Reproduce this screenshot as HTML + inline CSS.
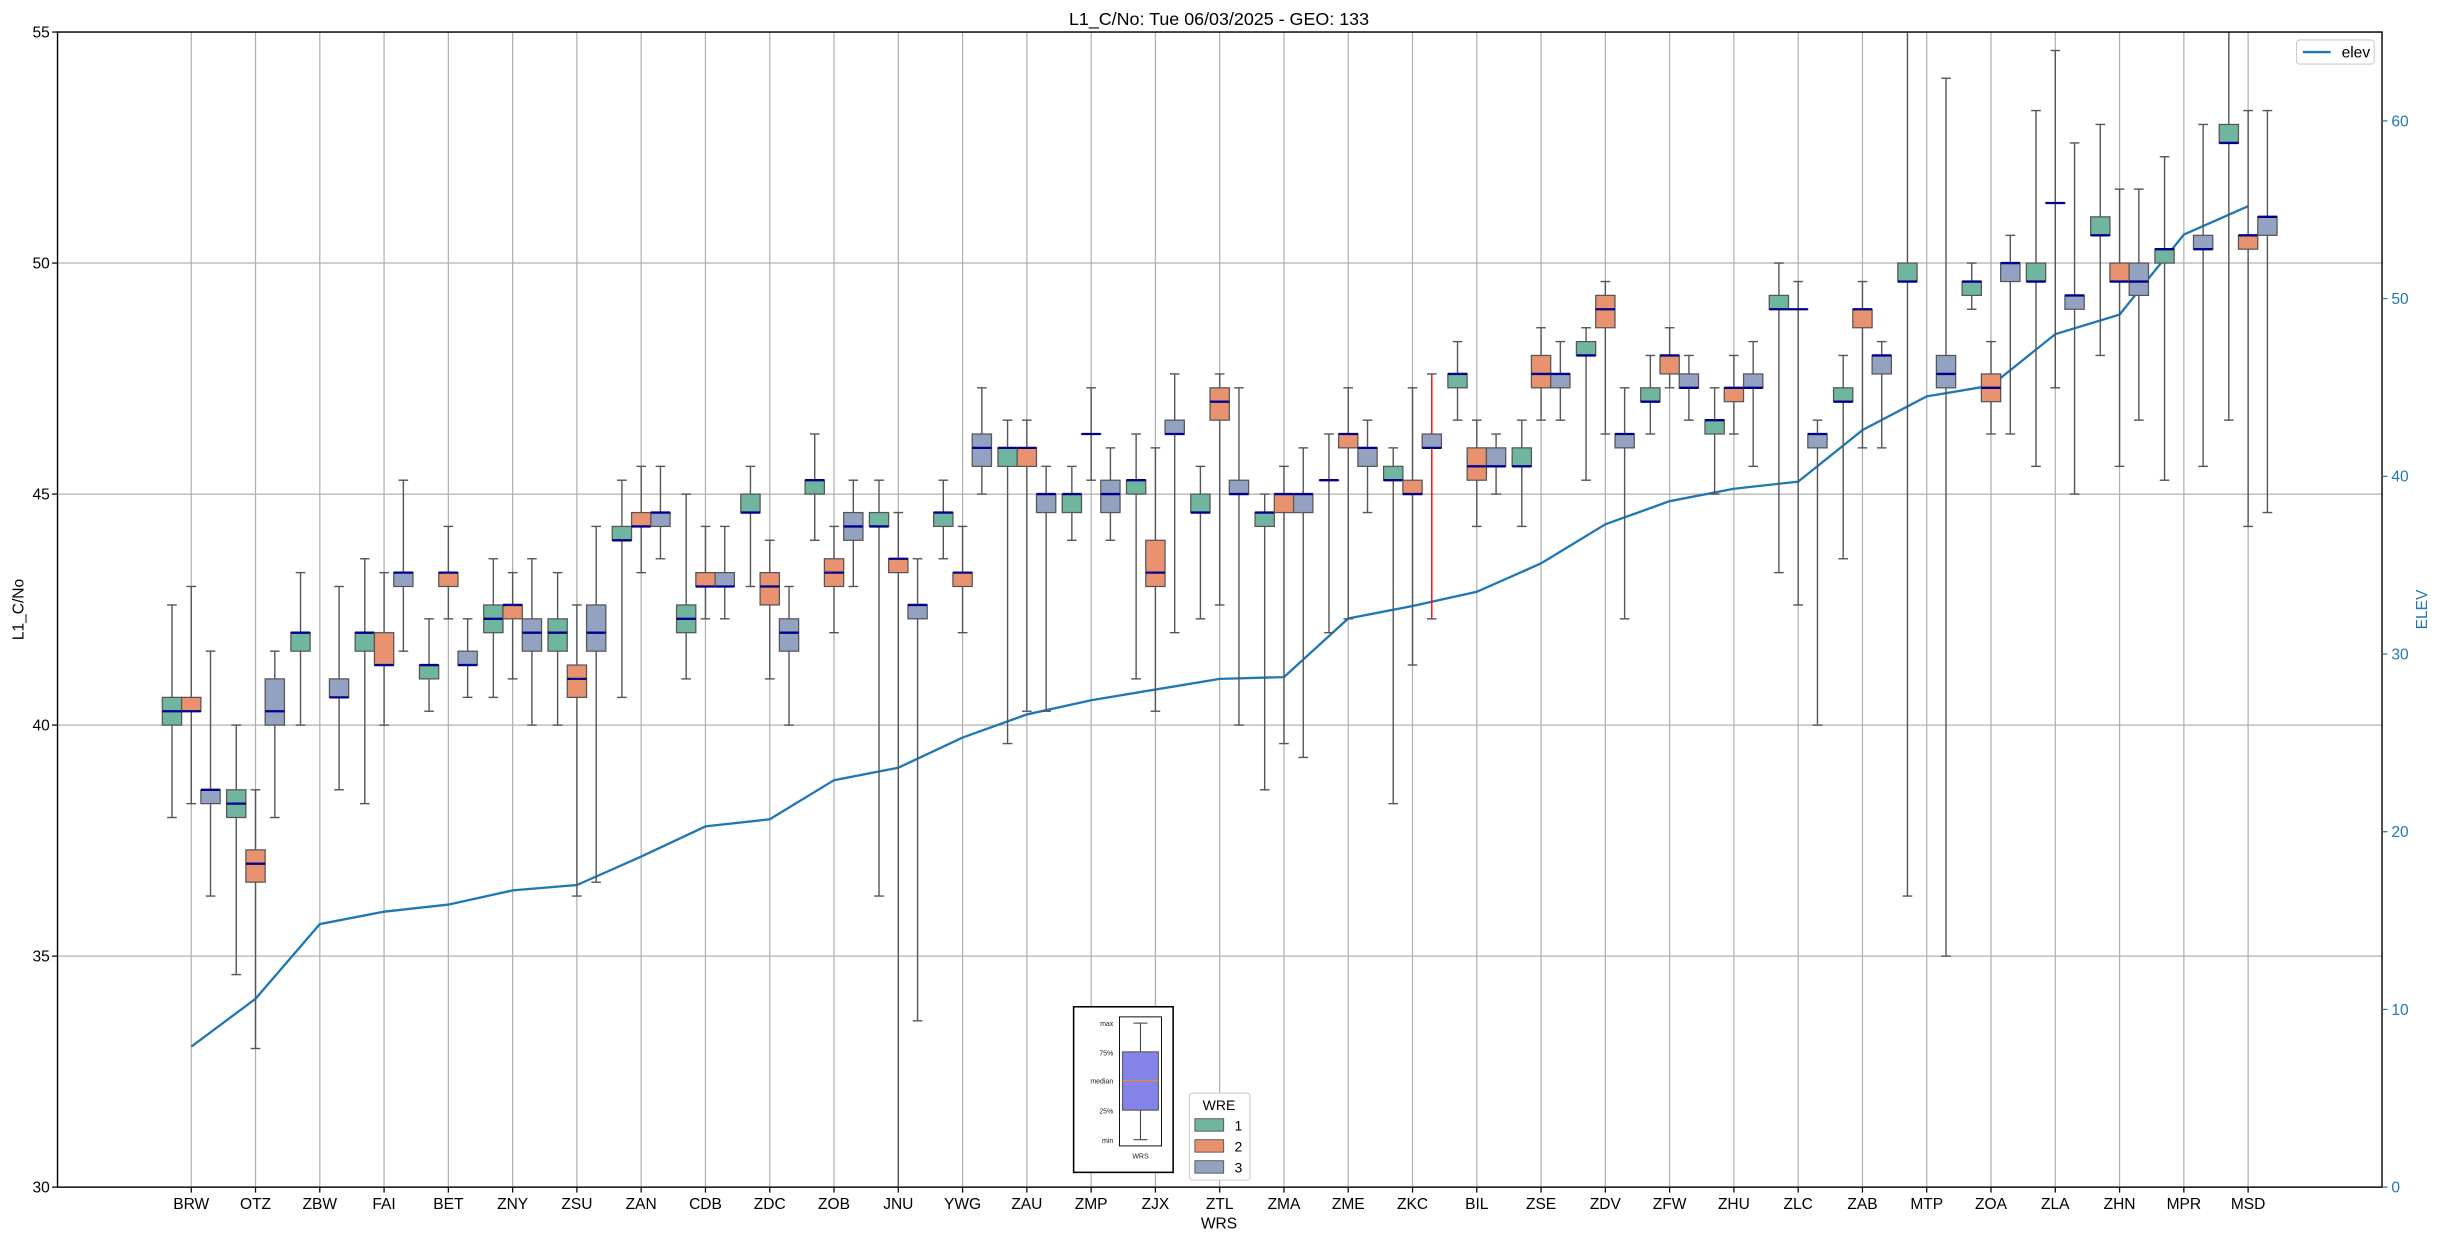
<!DOCTYPE html>
<html><head><meta charset="utf-8"><style>
html,body{margin:0;padding:0;background:#fff;}
svg{display:block;font-family:"Liberation Sans","DejaVu Sans",sans-serif;}
</style></head><body>
<svg id="chart" width="2438" height="1240" viewBox="0 0 1568 797.5" xmlns="http://www.w3.org/2000/svg">
<rect width="1568" height="797.5" fill="#fff"/>
<g id="grid"></g>
<g id="elevg"></g>
<g id="boxes"></g>
<g id="axes"></g>
<text x="784" y="16" text-anchor="middle" font-size="11.5">L1_C/No: Tue 06/03/2025 - GEO: 133</text>
<text x="784" y="790" text-anchor="middle" font-size="10">WRS</text>
<text transform="translate(15,392) rotate(-90)" text-anchor="middle" font-size="10">L1_C/No</text>
<text transform="translate(1561,392) rotate(-90)" text-anchor="middle" font-size="10" fill="#1f77b4">ELEV</text>
<g>
<rect x="1477" y="25.7" width="50" height="15.5" rx="2" fill="#fff" stroke="#ccc" stroke-width="0.7"/>
<line x1="1481" y1="33.5" x2="1499" y2="33.5" stroke="#1f77b4" stroke-width="1.5"/>
<text x="1506" y="37" font-size="10">elev</text>
</g>
<g>
<rect x="690.5" y="647.5" width="64" height="106.5" fill="#fff" stroke="#000" stroke-width="1"/>
<rect x="720" y="654" width="27" height="83" fill="#fff" stroke="#000" stroke-width="0.6"/>
<line x1="733.5" y1="658" x2="733.5" y2="733" stroke="#444" stroke-width="0.7"/>
<line x1="729" y1="658" x2="738" y2="658" stroke="#444" stroke-width="0.7"/>
<line x1="729" y1="733" x2="738" y2="733" stroke="#444" stroke-width="0.7"/>
<rect x="722" y="676.5" width="23" height="37.5" fill="#8484e8" stroke="#444" stroke-width="0.6"/>
<line x1="722" y1="695" x2="745" y2="695" stroke="#ff8c00" stroke-width="0.7"/>
<g font-size="4.5" text-anchor="end" fill="#222">
<text x="716" y="660">max</text><text x="716" y="679">75%</text><text x="716" y="697">median</text><text x="716" y="716">25%</text><text x="716" y="735">min</text>
</g>
<text x="733.5" y="745" font-size="4.5" text-anchor="middle" fill="#222">WRS</text>
</g>
<g>
<rect x="765" y="703" width="39" height="56" rx="2" fill="#fff" stroke="#ccc" stroke-width="0.7"/>
<text x="784" y="714" font-size="9" text-anchor="middle">WRE</text>
<rect x="768.5" y="719.5" width="18.5" height="8" fill="#6fb59f" stroke="#555" stroke-width="0.6"/><text x="794" y="727" font-size="9">1</text>
<rect x="768.5" y="733" width="18.5" height="8" fill="#e8926f" stroke="#555" stroke-width="0.6"/><text x="794" y="740.5" font-size="9">2</text>
<rect x="768.5" y="746.5" width="18.5" height="8" fill="#94a2c2" stroke="#555" stroke-width="0.6"/><text x="794" y="754" font-size="9">3</text>
</g>
</svg>
<script>
const categories=["BRW","OTZ","ZBW","FAI","BET","ZNY","ZSU","ZAN","CDB","ZDC","ZOB","JNU","YWG","ZAU","ZMP","ZJX","ZTL","ZMA","ZME","ZKC","BIL","ZSE","ZDV","ZFW","ZHU","ZLC","ZAB","MTP","ZOA","ZLA","ZHN","MPR","MSD"];
const elev=[7.9,10.6,14.8,15.5,15.9,16.7,17.0,18.6,20.3,20.7,22.9,23.6,25.3,26.6,27.4,28.0,28.6,28.7,32.0,32.7,33.5,35.1,37.3,38.6,39.3,39.7,42.6,44.5,45.1,48.0,49.1,53.6,55.2];
// [low whisker, q1, median, q3, high whisker]
const wre1=[[38.0,40.0,40.3,40.6,42.6],[34.6,38.0,38.3,38.6,40.0],[40.0,41.6,42.0,42.0,43.3],[38.3,41.6,42.0,42.0,43.6],[40.3,41.0,41.3,41.3,42.3],[40.6,42.0,42.3,42.6,43.6],[40.0,41.6,42.0,42.3,43.3],[40.6,44.0,44.0,44.3,45.3],[41.0,42.0,42.3,42.6,45.0],[43.0,44.6,44.6,45.0,45.6],[44.0,45.0,45.3,45.3,46.3],[36.3,44.3,44.3,44.6,45.3],[43.6,44.3,44.6,44.6,45.3],[39.6,45.6,46.0,46.0,46.6],[44.0,44.6,45.0,45.0,45.6],[41.0,45.0,45.3,45.3,46.3],[42.3,44.6,44.6,45.0,45.6],[38.6,44.3,44.6,44.6,45.0],[42.0,45.3,45.3,45.3,46.3],[38.3,45.3,45.3,45.6,46.0],[46.6,47.3,47.6,47.6,48.3],[44.3,45.6,45.6,46.0,46.6],[45.3,48.0,48.0,48.3,48.6],[46.3,47.0,47.0,47.3,48.0],[45.0,46.3,46.6,46.6,47.3],[43.3,49.0,49.0,49.3,50.0],[43.6,47.0,47.0,47.3,48.0],[36.3,49.6,49.6,50.0,55.5],[49.0,49.3,49.6,49.6,50.0],[45.6,49.6,49.6,50.0,53.3],[48.0,50.6,50.6,51.0,53.0],[45.3,50.0,50.3,50.3,52.3],[46.6,52.6,52.6,53.0,55.5]];
const wre2=[[38.3,40.3,40.3,40.6,43.0],[33.0,36.6,37.0,37.3,38.6],null,[40.0,41.3,41.3,42.0,43.3],[42.3,43.0,43.3,43.3,44.3],[41.0,42.3,42.6,42.6,43.3],[36.3,40.6,41.0,41.3,42.6],[43.3,44.3,44.3,44.6,45.6],[42.3,43.0,43.0,43.3,44.3],[41.0,42.6,43.0,43.3,44.0],[42.0,43.0,43.3,43.6,44.3],[29.9,43.3,43.6,43.6,44.6],[42.0,43.0,43.3,43.3,44.3],[40.3,45.6,46.0,46.0,46.6],[45.3,46.3,46.3,46.3,47.3],[40.3,43.0,43.3,44.0,46.0],[42.6,46.6,47.0,47.3,47.6],[39.6,44.6,45.0,45.0,45.6],[42.3,46.0,46.3,46.3,47.3],[41.3,45.0,45.0,45.3,47.3],[44.3,45.3,45.6,46.0,46.6],[46.6,47.3,47.6,48.0,48.6],[46.3,48.6,49.0,49.3,49.6],[47.3,47.6,48.0,48.0,48.6],[46.3,47.0,47.3,47.3,48.0],[42.6,49.0,49.0,49.0,49.6],[46.0,48.6,49.0,49.0,49.6],null,[46.3,47.0,47.3,47.6,48.3],[47.3,51.3,51.3,51.3,54.6],[45.6,49.6,49.6,50.0,51.6],null,[44.3,50.3,50.6,50.6,53.3]];
const wre3=[[36.3,38.3,38.6,38.6,41.6],[38.0,40.0,40.3,41.0,41.6],[38.6,40.6,40.6,41.0,43.0],[41.6,43.0,43.3,43.3,45.3],[40.6,41.3,41.3,41.6,42.3],[40.0,41.6,42.0,42.3,43.6],[36.6,41.6,42.0,42.6,44.3],[43.6,44.3,44.6,44.6,45.6],[42.3,43.0,43.0,43.3,44.3],[40.0,41.6,42.0,42.3,43.0],[43.0,44.0,44.3,44.6,45.3],[33.6,42.3,42.6,42.6,43.6],[45.0,45.6,46.0,46.3,47.3],[40.3,44.6,45.0,45.0,45.6],[44.0,44.6,45.0,45.3,46.0],[42.0,46.3,46.3,46.6,47.6],[40.0,45.0,45.0,45.3,47.3],[39.3,44.6,45.0,45.0,46.0],[44.6,45.6,46.0,46.0,46.6],[42.3,46.0,46.0,46.3,47.6],[45.0,45.6,45.6,46.0,46.3],[46.6,47.3,47.6,47.6,48.3],[42.3,46.0,46.3,46.3,47.3],[46.6,47.3,47.3,47.6,48.0],[45.6,47.3,47.3,47.6,48.3],[40.0,46.0,46.3,46.3,46.6],[46.0,47.6,48.0,48.0,48.3],[35.0,47.3,47.6,48.0,54.0],[46.3,49.6,50.0,50.0,50.6],[45.0,49.0,49.3,49.3,52.6],[46.6,49.3,49.6,50.0,51.6],[45.6,50.3,50.3,50.6,53.0],[44.6,50.6,51.0,51.0,53.3]];
const leftTicks=[30,35,40,45,50,55];
const rightTicks=[0,10,20,30,40,50,60];
const redWhisker=[{wre:3,cat:"ZKC"}];

const NS="http://www.w3.org/2000/svg";
const L=37,R=1532,T=20.6,B=763.5;
const yL=v=>B-(v-30)/(55-30)*(B-T);
const yR=v=>B-v/65*(B-T);
const step=41.34;
const xC=i=>L+86+step*i;
function mk(tag,attrs,parent){const e=document.createElementNS(NS,tag);for(const k in attrs)e.setAttribute(k,attrs[k]);parent.appendChild(e);return e;}
const grid=document.getElementById('grid'),axes=document.getElementById('axes'),boxes=document.getElementById('boxes'),eg=document.getElementById('elevg');
leftTicks.forEach(t=>{const l=mk('line',{x1:L,x2:R,y1:yL(t),y2:yL(t),stroke:'#b0b0b0','stroke-width':0.8},grid);

});
categories.forEach((c,i)=>{const l=mk('line',{x1:xC(i),x2:xC(i),y1:T,y2:B,stroke:'#b0b0b0','stroke-width':0.8},grid);

});
const fills=['#6fb59f','#e8926f','#94a2c2'];
const off=step*0.3,bw=step*0.3;
[wre1,wre2,wre3].forEach((arr,w)=>{arr.forEach((d,i)=>{if(!d)return;
const cx=xC(i)+(w-1)*off;const g=mk('g',{},boxes);


const red=redWhisker.some(r=>r.wre===w+1&&r.cat===categories[i]);
const wc=red?'#ff0000':'#555';
const hi=Math.max(T,yL(d[4])),lo=Math.min(B,yL(d[0]));
mk('line',{x1:cx,x2:cx,y1:hi,y2:yL(d[3]),stroke:wc,'stroke-width':0.9},g);
mk('line',{x1:cx,x2:cx,y1:yL(d[1]),y2:lo,stroke:wc,'stroke-width':0.9},g);
if(d[4]<55)mk('line',{x1:cx-bw/4,x2:cx+bw/4,y1:hi,y2:hi,stroke:'#555','stroke-width':0.9},g);
if(d[0]>30)mk('line',{x1:cx-bw/4,x2:cx+bw/4,y1:lo,y2:lo,stroke:'#555','stroke-width':0.9},g);
mk('rect',{x:cx-bw/2,y:yL(d[3]),width:bw,height:Math.max(0.01,yL(d[1])-yL(d[3])),fill:fills[w],stroke:'#555','stroke-width':0.8},g);
mk('line',{x1:cx-bw/2,x2:cx+bw/2,y1:yL(d[2]),y2:yL(d[2]),stroke:'#00008b','stroke-width':1.5},g);
});});
const pts=elev.map((v,i)=>xC(i)+','+yR(v)).join(' ');
const pl=mk('polyline',{points:pts,fill:'none',stroke:'#1f77b4','stroke-width':1.5},eg);


mk('rect',{x:L,y:T,width:R-L,height:B-T,fill:'none',stroke:'#000','stroke-width':0.9},axes);
leftTicks.forEach(t=>{mk('line',{x1:L-3.5,x2:L,y1:yL(t),y2:yL(t),stroke:'#000','stroke-width':0.8},axes);
const tx=mk('text',{x:L-5,y:yL(t)+3.5,'text-anchor':'end','font-size':10},axes);tx.textContent=t;

});
rightTicks.forEach(t=>{mk('line',{x1:R,x2:R+3.5,y1:yR(t),y2:yR(t),stroke:'#1f77b4','stroke-width':0.8},axes);
const tx=mk('text',{x:R+6,y:yR(t)+3.5,'font-size':10,fill:'#1f77b4'},axes);tx.textContent=t;

});
categories.forEach((c,i)=>{mk('line',{x1:xC(i),x2:xC(i),y1:B,y2:B+3.5,stroke:'#000','stroke-width':0.8},axes);
const tx=mk('text',{x:xC(i),y:B+14,'text-anchor':'middle','font-size':10},axes);tx.textContent=c;

});
</script>
</body></html>
